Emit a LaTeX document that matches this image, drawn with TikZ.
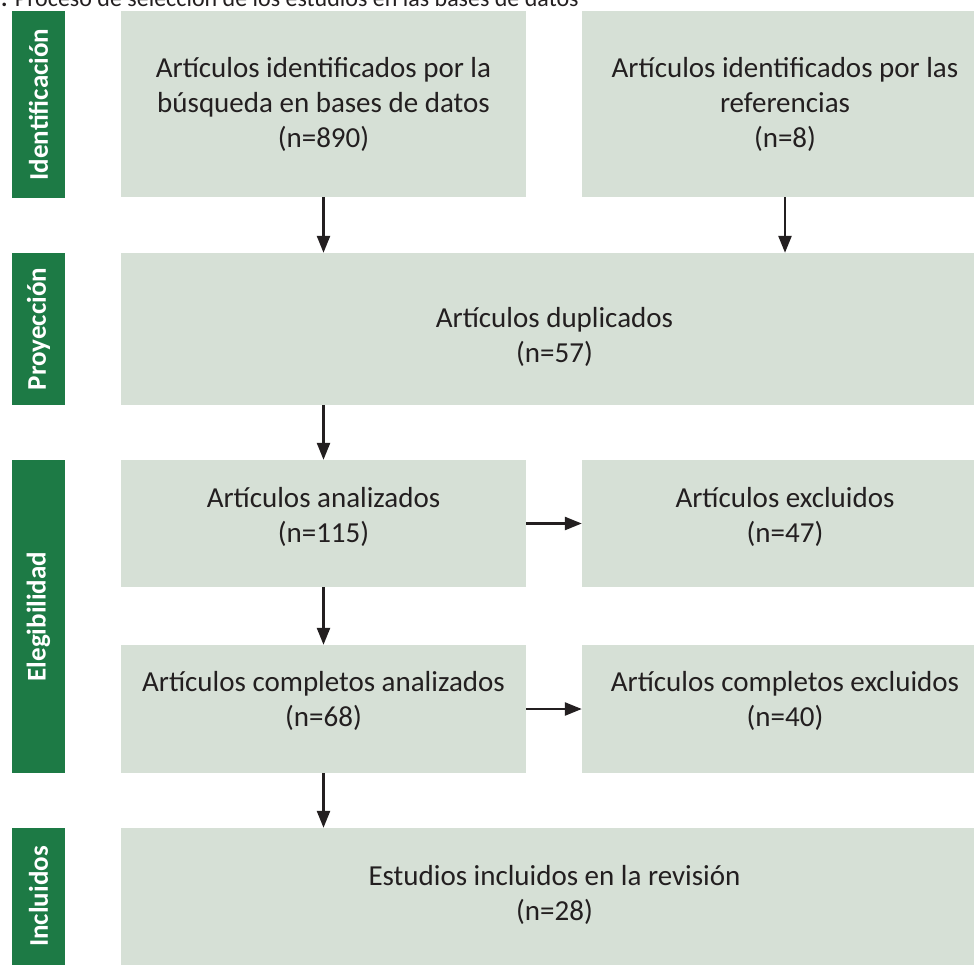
\documentclass[tikz,border=0pt]{standalone}
\usepackage{fontspec}
\setmainfont{Carlito}
\usetikzlibrary{arrows.meta}
\definecolor{barGreen}{RGB}{29,122,69}
\definecolor{boxGray}{RGB}{214,224,214}
\definecolor{inkGray}{RGB}{35,31,32}
\begin{document}
\begin{tikzpicture}[x=1pt,y=-1pt,
    box/.style={fill=boxGray, inner sep=0pt},
    boxtext/.style={inner sep=0pt, align=center, text=inkGray,
      font=\fontsize{29}{35}\selectfont},
    bar/.style={fill=barGreen, text=white, inner sep=0pt, rotate=90,
      minimum height=53pt, font=\bfseries\fontsize{27}{32}\selectfont},
    arr/.style={line width=2.5pt, draw=inkGray,
      -{Triangle[length=17pt,width=13pt,fill=inkGray]}}]
      \useasboundingbox (0,0) rectangle (974,964);

      % titulo (cortado arriba)
      \node[anchor=base west, inner sep=0pt, text=inkGray, font=\fontsize{24}{28}\selectfont]
        (titulo) at (1,6) {\textbf{.} Proceso de selección de los estudios en las bases de datos};

      % etapas
      \node[bar, minimum width=187pt] (identif) at (38.5,104.5) {Identificación};
      \node[bar, minimum width=152pt] (proyec) at (38.5,329) {Proyección};
      \node[bar, minimum width=313pt] (elegib) at (38.5,616.5) {Elegibilidad};
      \node[bar, minimum width=137pt] (inclu) at (38.5,896.5) {Incluidos};

      % cajas
      \node[box, minimum width=405pt, minimum height=186pt] (busqueda) at (323.5,104) {};
      \node[box, minimum width=406pt, minimum height=186pt] (referencias) at (785,104) {};
      \node[box, minimum width=867pt, minimum height=152pt] (duplicados) at (554.5,329) {};
      \node[box, minimum width=405pt, minimum height=127pt] (analizados) at (323.5,523.5) {};
      \node[box, minimum width=406pt, minimum height=127pt] (excluidos) at (785,523.5) {};
      \node[box, minimum width=405pt, minimum height=128pt] (completos) at (323.5,709) {};
      \node[box, minimum width=406pt, minimum height=128pt] (compexcl) at (785,709) {};
      \node[box, minimum width=867pt, minimum height=137pt] (estudios) at (554.5,896.5) {};

      % textos de las cajas
      \node[boxtext] (busqueda-t) at (busqueda.center)
        {Artículos identificados por la\\búsqueda en bases de datos\\(n=890)};
      \node[boxtext] (referencias-t) at (referencias.center)
        {Artículos identificados por las\\referencias\\(n=8)};
      \node[boxtext] (duplicados-t) at ([yshift=-8pt]duplicados.center)
        {Artículos duplicados\\(n=57)};
      \node[boxtext] (analizados-t) at ([yshift=7pt]analizados.center)
        {Artículos analizados\\(n=115)};
      \node[boxtext] (excluidos-t) at ([yshift=7pt]excluidos.center)
        {Artículos excluidos\\(n=47)};
      \node[boxtext] (completos-t) at ([yshift=8pt]completos.center)
        {Artículos completos analizados\\(n=68)};
      \node[boxtext] (compexcl-t) at ([yshift=8pt]compexcl.center)
        {Artículos completos excluidos\\(n=40)};
      \node[boxtext] (estudios-t) at ([yshift=2pt]estudios.center)
        {Estudios incluidos en la revisión\\(n=28)};

      % flechas
      \draw[arr] (busqueda.south) -- (busqueda.south |- duplicados.north);
      \draw[arr] (referencias.south) -- (referencias.south |- duplicados.north);
      \draw[arr] (analizados.north |- duplicados.south) -- (analizados.north);
      \draw[arr] (analizados.east) -- (excluidos.west);
      \draw[arr] (analizados.south) -- (completos.north);
      \draw[arr] (completos.east) -- (compexcl.west);
      \draw[arr] (completos.south) -- (completos.south |- estudios.north);
    \end{tikzpicture}
\end{document}
